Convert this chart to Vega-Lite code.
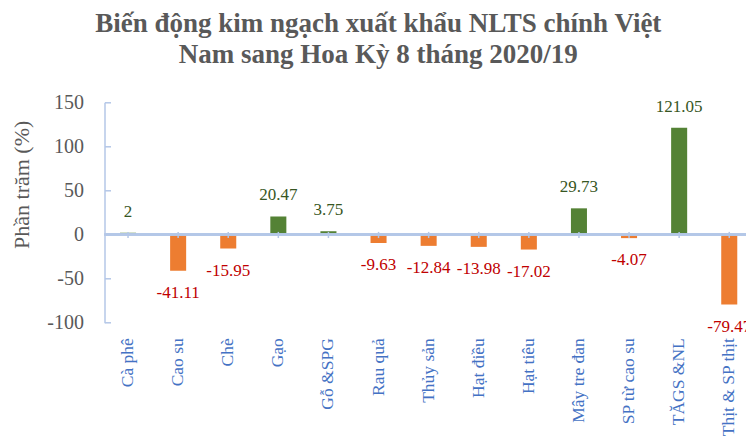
{
  "$schema": "https://vega.github.io/schema/vega-lite/v6.json",
  "autosize": {"type": "none"},
  "padding": {"left": 104.5, "top": 102.3, "right": 0, "bottom": 117.3},
  "width": 641.5,
  "height": 220.4,
  "background": "white",
  "title": {
    "text": ["Biến động kim ngạch xuất khẩu NLTS chính Việt", "Nam sang Hoa Kỳ 8 tháng 2020/19"],
    "font": "Liberation Serif",
    "fontSize": 27,
    "fontWeight": "bold",
    "color": "#595959",
    "lineHeight": 31,
    "anchor": "middle",
    "dx": -47,
    "offset": 23
  },
  "data": {
    "values": [
      {"cat": "Cà phê", "value": 2},
      {"cat": "Cao su", "value": -41.11},
      {"cat": "Chè", "value": -15.95},
      {"cat": "Gạo", "value": 20.47},
      {"cat": "Gỗ &SPG", "value": 3.75},
      {"cat": "Rau quả", "value": -9.63},
      {"cat": "Thủy sản", "value": -12.84},
      {"cat": "Hạt điều", "value": -13.98},
      {"cat": "Hạt tiêu", "value": -17.02},
      {"cat": "Mây tre đan", "value": 29.73},
      {"cat": "SP từ cao su", "value": -4.07},
      {"cat": "TĂGS &NL", "value": 121.05},
      {"cat": "Thịt & SP thịt", "value": -79.47}
    ]
  },
  "encoding": {
    "x": {
      "field": "cat",
      "type": "nominal",
      "sort": null,
      "scale": {"paddingInner": 0.68, "paddingOuter": 0.242, "align": 0.64},
      "axis": {
        "title": null,
        "labelAngle": -90,
        "labelFont": "Liberation Serif",
        "labelFontSize": 17.5,
        "labelColor": "#4472C4",
        "labelPadding": 15,
        "ticks": false,
        "domain": false
      }
    }
  },
  "layer": [
    {
      "mark": {"type": "bar", "clip": false},
      "encoding": {
        "y": {
          "field": "value",
          "type": "quantitative",
          "scale": {"domain": [-100, 150], "nice": false},
          "axis": {
            "values": [-100, -50, 0, 50, 100, 150],
            "labelExpr": "'' + datum.value",
            "grid": false,
            "title": "Phần trăm (%)",
            "titleFont": "Liberation Serif",
            "titleFontSize": 22,
            "titleFontWeight": "normal",
            "titleColor": "#595959",
            "titleX": -83,
            "titleY": 82,
            "titleAngle": -90,
            "titleAlign": "center",
            "titleBaseline": "middle",
            "labelFont": "Liberation Serif",
            "labelFontSize": 20,
            "labelColor": "#595959",
            "labelPadding": 27,
            "tickSize": -6,
            "tickColor": "#B4C7E7",
            "tickWidth": 1.5,
            "domainColor": "#B4C7E7",
            "domainWidth": 1.5
          }
        },
        "color": {
          "condition": {"test": "datum.value >= 0", "value": "#548235"},
          "value": "#ED7D31"
        }
      }
    },
    {
      "mark": {"type": "rule", "color": "#B4C7E7", "strokeWidth": 1.5},
      "encoding": {"y": {"datum": 0, "type": "quantitative"}, "x": null}
    },
    {
      "mark": {"type": "rule", "color": "#B4C7E7", "strokeWidth": 1.5},
      "encoding": {
        "y": {"datum": 3, "type": "quantitative"},
        "y2": {"datum": -4}
      }
    },
    {
      "transform": [{"filter": "datum.value >= 0"}],
      "mark": {"type": "text", "font": "Liberation Serif", "fontSize": 17, "color": "#375623", "baseline": "middle", "dy": -21},
      "encoding": {
        "y": {"field": "value", "type": "quantitative"},
        "text": {"field": "value", "type": "nominal"}
      }
    },
    {
      "transform": [{"filter": "datum.value < 0"}],
      "mark": {"type": "text", "font": "Liberation Serif", "fontSize": 17, "color": "#C00000", "baseline": "middle", "dy": 22},
      "encoding": {
        "y": {"field": "value", "type": "quantitative"},
        "text": {"field": "value", "type": "nominal"}
      }
    }
  ],
  "config": {
    "view": {"stroke": null}
  }
}
